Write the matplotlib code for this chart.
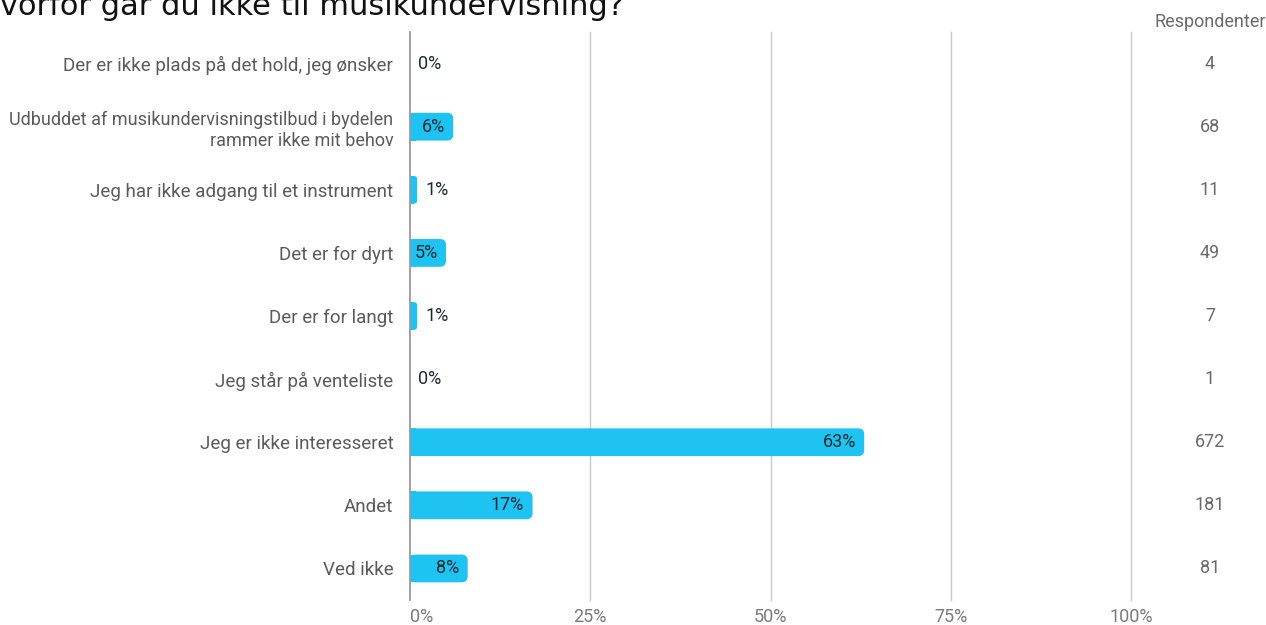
import matplotlib
matplotlib.use('Agg')
import matplotlib.pyplot as plt
from matplotlib.patches import FancyBboxPatch, Rectangle
from matplotlib import transforms

# data
categories = [
    'Der er ikke plads på det hold, jeg ønsker',
    'Udbuddet af musikundervisningstilbud i bydelen\nrammer ikke mit behov',
    'Jeg har ikke adgang til et instrument',
    'Det er for dyrt',
    'Der er for langt',
    'Jeg står på venteliste',
    'Jeg er ikke interesseret',
    'Andet',
    'Ved ikke',
]
percent = [0, 6, 1, 5, 1, 0, 63, 17, 8]
respondents = [4, 68, 11, 49, 7, 1, 672, 181, 81]
x_ticks = [0, 25, 50, 75, 100]
x_ticklabels = ['0%', '25%', '50%', '75%', '100%']
title = 'Hvorfor går du ikke til musikundervisning?'

BAR = '#1fc3f2'
FONT = 'Roboto'

W, H = 1266, 625
fig = plt.figure(figsize=(W / 100, H / 100), dpi=100)
ax_left, ax_right, ax_top, ax_bot = 410, 1131, 32, 600
ax = fig.add_axes([ax_left / W, 1 - ax_bot / H, (ax_right - ax_left) / W, (ax_bot - ax_top) / H])

n = len(categories)
ax.set_xlim(0, 100)
ax.set_ylim(n - 0.5, -0.5)

px_x = (ax_right - ax_left) / 100.0
px_y = (ax_bot - ax_top) / n
bar_h = 0.44
r_px = 6

for i, v in enumerate(percent):
    if v > 0:
        r = min(r_px / px_x, v / 2)
        box = FancyBboxPatch((0, i - bar_h / 2), v, bar_h,
                             boxstyle=f'round,pad=0,rounding_size={r}',
                             mutation_aspect=px_x / px_y,
                             fc=BAR, ec='none', zorder=3)
        ax.add_patch(box)
        ax.add_patch(Rectangle((0, i - bar_h / 2), r, bar_h, fc=BAR, ec='none', zorder=3))
    lab = f'{v}%'
    if v >= 3:
        ax.annotate(lab, (v, i), xytext=(-6, 0), textcoords='offset points',
                    ha='right', va='center', fontsize=13, color='#1c2b33',
                    family=FONT, zorder=4)
    else:
        ax.annotate(lab, (v, i), xytext=(6, 0), textcoords='offset points',
                    ha='left', va='center', fontsize=13, color='#1c2b33',
                    family=FONT, zorder=4)

for x in x_ticks[1:]:
    ax.axvline(x, color='#c9c9c9', lw=1, zorder=1, clip_on=False)
ax.axvline(0, color='#9a9a9a', lw=1.3, zorder=5, clip_on=False)

for s in ax.spines.values():
    s.set_visible(False)

ax.set_xticks(x_ticks)
ax.set_xticklabels(x_ticklabels, family=FONT, fontsize=13, color='#7a7a7a')
ax.get_xticklabels()[0].set_horizontalalignment('left')
ax.set_yticks(range(n))
ax.set_yticklabels(categories, family=FONT, fontsize=13.5, color='#5a5a5a')
ax.tick_params(axis='x', length=0, pad=6)
ax.tick_params(axis='y', length=0, pad=12)
# the two-line label is a little narrower in the reference
ax.get_yticklabels()[1].set_fontsize(13)

# respondents column
tr = transforms.blended_transform_factory(fig.transFigure, ax.transData)
for i, c in enumerate(respondents):
    fig.text(1210 / W, i, str(c), transform=tr, ha='center', va='center',
             family=FONT, fontsize=13, color='#6a6a6a')
fig.text(1210 / W, 1 - 22 / H, 'Respondenter', ha='center', va='center',
         family=FONT, fontsize=13, color='#6a6a6a')

# title is cut off by the top edge in the reference
fig.text(-23 / W, 1 - 15 / H, title, ha='left', va='baseline',
         family='DejaVu Sans', fontsize=22, color='#111111')

fig.savefig('out.png', dpi=100)
